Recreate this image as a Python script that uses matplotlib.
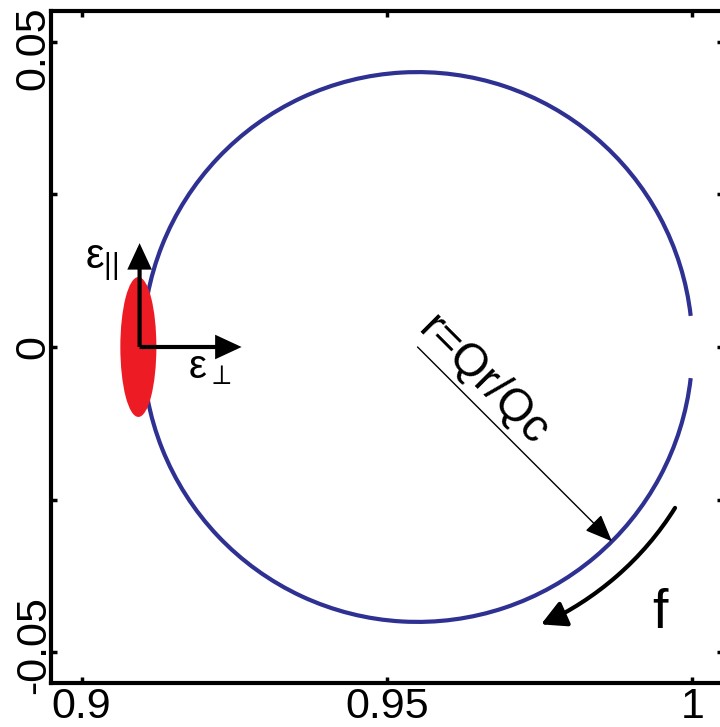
import matplotlib
matplotlib.use("Agg")
import matplotlib.pyplot as plt
from matplotlib.patches import Arc, Ellipse, FancyArrowPatch
from matplotlib.path import Path
from matplotlib.transforms import Affine2D, ScaledTranslation
import numpy as np

plt.rcParams['font.family'] = ['Liberation Sans', 'DejaVu Sans']
plt.rcParams['mathtext.fontset'] = 'custom'
plt.rcParams['mathtext.rm'] = 'Liberation Sans'
plt.rcParams['mathtext.it'] = 'Liberation Sans'

# resonance circle (center, radius, gap at the off-resonance point)
circle_center = (0.955, 0.0)
circle_radius = 0.045
gap_half_deg = 6.5

# noise ellipse
noise_center = (0.9093, 0.0)
noise_width = 0.0059
noise_height = 0.0229

# epsilon arrows
eps_origin = (0.9095, 0.0)
eps_par_tip = (0.9095, 0.017)
eps_perp_tip = (0.9262, 0.0)

# radius arrow and frequency arrow
radius_angle_deg = -45
f_radius = 0.0497
f_start_deg = -32
f_end_deg = -66

xticks = [0.9, 0.95, 1.0]
xtick_labels = ['0.9', '0.95', '1']
yticks = [-0.05, 0.0, 0.05]
ytick_labels = ['-0.05', '0', '0.05']
yminor = [-0.025, 0.025]

blue = '#2E3192'
red = '#ED1C24'

fig = plt.figure(figsize=(7.2, 7.27), dpi=100)
ax = fig.add_axes([51 / 720, 44 / 727, 672 / 720, 672 / 727])
ax.set_xlim(0.895, 1.005)
ax.set_ylim(-0.055, 0.055)

# circle with small gap near (1, 0)
ax.add_patch(Arc(circle_center, 2 * circle_radius, 2 * circle_radius,
                 theta1=gap_half_deg, theta2=360 - gap_half_deg,
                 color=blue, lw=3))

ax.add_patch(Ellipse(noise_center, noise_width, noise_height,
                     color=red, lw=0, zorder=3))

# epsilon arrows
for tip in (eps_par_tip, eps_perp_tip):
    ax.add_patch(FancyArrowPatch(eps_origin, tip,
                                 arrowstyle='-|>,head_length=14,head_width=6.5',
                                 color='black', lw=3, shrinkA=0, shrinkB=0,
                                 joinstyle='miter', capstyle='butt', zorder=4))
ax.text(0.9006, 0.0129, r'$\mathregular{\varepsilon_{||}}$', fontsize=30,
        ha='left', va='baseline')
ax.text(0.9175, -0.0051, r'$\mathregular{\varepsilon_{\perp}}$', fontsize=29,
        ha='left', va='baseline')

# radius arrow
a = np.deg2rad(radius_angle_deg)
r_tip = (circle_center[0] + circle_radius * np.cos(a),
         circle_center[1] + circle_radius * np.sin(a))
ax.add_patch(FancyArrowPatch(circle_center, r_tip,
                             arrowstyle='-|>,head_length=17,head_width=7',
                             color='black', lw=1, shrinkA=0, shrinkB=0,
                             zorder=4))
ax.annotate('r=Qr/Qc', xy=circle_center, xytext=(-1, 11.5),
            textcoords='offset points', rotation=radius_angle_deg,
            rotation_mode='anchor', ha='left', va='baseline', fontsize=33)

# frequency direction arrow (arc)
arc_path = Path.arc(f_end_deg, f_start_deg)
arc_path = arc_path.transformed(Affine2D().scale(f_radius).translate(*circle_center))
ax.add_patch(FancyArrowPatch(path=arc_path,
                             arrowstyle='<|-,head_length=15,head_width=8',
                             color='black', lw=3, zorder=4))
ax.text(0.9946, -0.0437, 'f', fontsize=40, ha='center', va='center')

# axes styling
for s in ax.spines.values():
    s.set_linewidth(3)
ax.set_xticks(xticks)
ax.set_xticklabels(xtick_labels)
ax.set_yticks(yticks)
ax.set_yticklabels(ytick_labels, rotation=90, va='center')
ax.set_yticks(yminor, minor=True)
ax.tick_params(which='both', direction='in', top=True, right=True,
               length=4, width=2.5, labelsize=31)
ax.tick_params(axis='x', pad=3)
ax.tick_params(axis='y', pad=-2)

# nudge the end labels inward a little, as in the original
ylabels = ax.get_yticklabels()
ylabels[0].set_transform(ylabels[0].get_transform() + ScaledTranslation(0, 5 / 72, fig.dpi_scale_trans))
ylabels[2].set_transform(ylabels[2].get_transform() + ScaledTranslation(0, -5 / 72, fig.dpi_scale_trans))

fig.savefig('out.png', dpi=100)
